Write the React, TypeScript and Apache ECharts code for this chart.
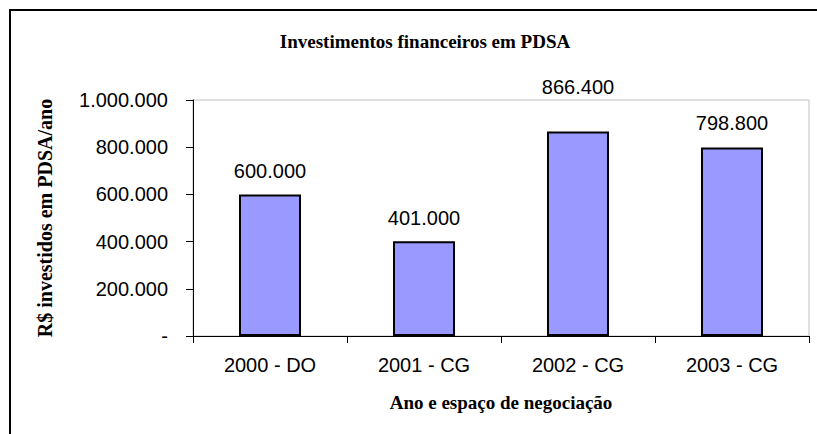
import React, { useEffect, useRef } from "react";
import * as echarts from "echarts";

const categories = ["2000 - DO", "2001 - CG", "2002 - CG", "2003 - CG"];
const values = [600000, 401000, 866400, 798800];
const labelDistances = [13, 13, 35, 14];
const yTicks = [0, 200000, 400000, 600000, 800000, 1000000];

const fmt = (v: number): string => {
  if (v === 0) return "-";
  const s = Math.round(v).toString();
  return s.replace(/\B(?=(\d{3})+(?!\d))/g, ".");
};

export default function App() {
  const ref = useRef<HTMLDivElement>(null);
  useEffect(() => {
    if (!ref.current) return;
    const chart = echarts.init(ref.current, null, { renderer: "svg" });
    const sans = "'Liberation Sans', Arial, sans-serif";
    const serif = "'Liberation Serif', 'Times New Roman', serif";
    chart.setOption({
      animation: false,
      backgroundColor: "#ffffff",
      title: {
        text: "Investimentos financeiros em PDSA",
        left: 420,
        textAlign: "center",
        top: 27,
        textStyle: { fontFamily: serif, fontWeight: "bold", fontSize: 19, color: "#000" },
      },
      graphic: [
        {
          type: "rect",
          shape: { x: 10, y: 10, width: 840, height: 460 },
          style: { fill: "none", stroke: "#000", lineWidth: 2 },
          silent: true,
          z: 100,
        },
      ],
      grid: {
        left: 193,
        top: 100,
        right: 8,
        bottom: 98,
        show: true,
        borderColor: "#c0c0c0",
        borderWidth: 1,
        containLabel: false,
      },
      xAxis: {
        type: "category",
        data: categories,
        name: "Ano e espaço de negociação",
        nameLocation: "middle",
        nameGap: 57,
        nameTextStyle: { fontFamily: serif, fontWeight: "bold", fontSize: 19, color: "#000" },
        axisLine: { show: true, lineStyle: { color: "#000", width: 1 } },
        axisTick: { show: true, alignWithLabel: false, length: 7, lineStyle: { color: "#000" } },
        axisLabel: { fontFamily: sans, fontSize: 20, color: "#000", margin: 19 },
        splitLine: { show: false },
      },
      yAxis: {
        type: "value",
        min: 0,
        max: 1000000,
        interval: 200000,
        name: "R$ investidos em PDSA/ano",
        nameLocation: "middle",
        nameGap: 138,
        nameRotate: 90,
        nameTextStyle: { fontFamily: serif, fontWeight: "bold", fontSize: 20, color: "#000" },
        axisLine: { show: true, lineStyle: { color: "#000", width: 1 } },
        axisTick: { show: true, length: 7, inside: false, lineStyle: { color: "#000" } },
        axisLabel: {
          fontFamily: sans,
          fontSize: 20,
          color: "#000",
          margin: 25,
          formatter: (v: number) => (yTicks.includes(v) ? fmt(v) : ""),
        },
        splitLine: { show: false },
      },
      series: [
        {
          type: "bar",
          barWidth: 62,
          data: values.map((v, i) => ({
            value: v,
            label: { distance: labelDistances[i] },
          })),
          itemStyle: { color: "#9999ff", borderColor: "#000", borderWidth: 2 },
          label: {
            show: true,
            position: "top",
            fontFamily: sans,
            fontSize: 20,
            color: "#000",
            formatter: (p: any) => fmt(p.value),
          },
        },
      ],
    });
    return () => chart.dispose();
  }, []);
  return (
    <div
      ref={ref}
      style={{ position: "fixed", left: 0, top: 0, width: 817, height: 434 }}
    />
  );
}
